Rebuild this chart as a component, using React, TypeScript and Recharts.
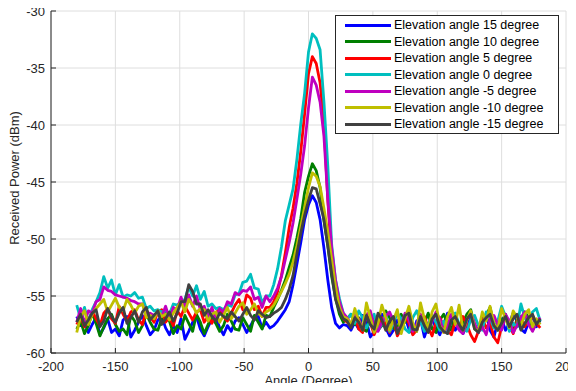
import { LineChart, Line, XAxis, YAxis, CartesianGrid } from 'recharts';

// measurement grid: -180 .. 180 deg, 3 deg apart
const angles = Array.from({ length: 121 }, (_, i) => -180 + i * 3);

const el15 = [
  -56.8, -57.6, -57.3, -58.2, -57.5, -56.9, -58.4, -57.8, -57.0, -58.2,
  -57.9, -58.5, -57.1, -56.8, -58.6, -58.0, -57.3, -56.7, -57.6, -58.4,
  -58.0, -57.1, -56.8, -57.8, -58.4, -57.6, -58.2, -57.0, -58.8, -58.1,
  -57.3, -56.8, -57.9, -58.5, -57.7, -57.0, -56.8, -57.8, -58.4, -57.6,
  -58.1, -57.2, -56.9, -57.5, -58.2, -57.6, -57.0, -56.8, -57.8, -57.3,
  -57.8, -57.6, -57.2, -56.7, -56.2, -55.5, -54.0, -52.2, -50.3, -48.3,
  -47.0, -46.2, -46.8, -48.3, -50.8, -53.6, -56.0, -57.4, -57.8, -57.5, -57.6,
  -58.0, -57.3, -57.9, -56.7, -57.2, -58.6, -58.1, -57.4, -56.6, -57.8,
  -58.5, -58.0, -57.1, -57.6, -56.8, -57.9, -58.3, -57.2, -57.0, -58.6,
  -57.6, -57.0, -57.8, -58.4, -57.5, -56.5, -57.2, -58.0, -57.4, -58.3,
  -57.5, -56.8, -57.6, -58.2, -57.0, -56.6, -58.0, -58.6, -57.3, -57.0,
  -58.0, -57.4, -56.5, -57.2, -57.9, -58.2, -57.3, -56.8, -57.7, -57.1,
];

const el10 = [
  -57.9, -57.2, -58.3, -57.6, -56.5, -57.4, -58.5, -57.7, -57.0, -56.6,
  -57.5, -58.1, -57.9, -58.4, -56.7, -57.2, -58.2, -57.6, -56.6, -57.3,
  -57.9, -58.0, -57.0, -56.5, -57.2, -58.3, -57.6, -57.9, -56.7, -57.4,
  -58.1, -56.6, -57.3, -58.3, -57.5, -56.9, -57.4, -58.1, -57.6, -56.6,
  -57.2, -57.9, -58.0, -56.9, -57.5, -58.1, -56.7, -57.3, -57.9, -56.7,
  -56.8, -56.0, -55.3, -54.5, -53.6, -52.5, -51.4, -49.9, -48.2, -45.9,
  -44.5, -43.4, -44.0, -45.5, -48.4, -50.6, -53.3, -55.2, -56.6, -57.3, -57.0,
  -56.6, -57.5, -56.9, -57.9, -58.1, -56.7, -57.2, -58.0, -57.6, -56.3,
  -56.9, -57.8, -58.0, -56.6, -57.3, -56.5, -57.7, -58.1, -56.9, -57.4,
  -56.5, -57.9, -58.2, -57.1, -56.6, -57.4, -58.0, -56.8, -57.9, -57.3,
  -56.6, -56.2, -57.6, -58.0, -57.2, -56.7, -56.0, -57.5, -58.0, -57.2,
  -56.6, -57.7, -58.1, -57.0, -57.5, -56.4, -56.9, -58.0, -57.4, -57.1,
];

const el5 = [
  -57.5, -56.8, -57.7, -57.2, -56.3, -57.0, -57.6, -56.5, -56.1, -57.0,
  -57.4, -55.9, -56.6, -57.2, -56.4, -56.2, -57.1, -57.5, -56.3, -56.8,
  -57.3, -56.4, -56.2, -57.3, -56.9, -57.6, -56.3, -56.8, -55.9, -56.5,
  -57.1, -56.4, -56.2, -57.3, -56.8, -57.4, -56.5, -56.1, -56.8, -57.2,
  -56.5, -55.8, -55.3, -56.2, -54.9, -55.2, -56.2, -55.9, -56.8, -56.0,
  -56.0, -55.5, -54.6, -53.2, -51.2, -49.0, -47.3, -45.1, -42.3, -39.0,
  -35.5, -34.0, -34.6, -36.3, -39.9, -46.6, -51.7, -54.2, -56.0, -57.0, -57.3,
  -57.6, -56.8, -57.9, -58.2, -56.6, -57.3, -58.4, -57.6, -56.9, -57.5,
  -58.2, -57.1, -58.5, -57.9, -56.7, -57.4, -58.4, -58.0, -57.0, -56.8,
  -57.8, -58.5, -57.3, -56.9, -57.6, -58.0, -58.4, -57.2, -57.9, -56.8,
  -57.5, -58.4, -59.0, -58.1, -57.0, -57.8, -57.3, -58.6, -59.1, -57.7,
  -56.9, -57.6, -58.3, -57.2, -56.8, -57.7, -57.2, -56.7, -57.4, -57.8,
];

const el0 = [
  -55.8, -57.0, -56.0, -57.3, -56.2, -55.5, -54.7, -53.3, -54.3, -53.6,
  -54.9, -54.0, -55.1, -54.9, -55.0, -54.7, -55.2, -55.1, -56.1, -55.9,
  -56.3, -56.2, -56.4, -56.3, -56.6, -55.7, -55.8, -55.5, -55.3, -54.2,
  -55.0, -54.1, -55.3, -54.6, -55.9, -55.7, -56.1, -56.0, -56.2, -55.8,
  -55.9, -54.9, -54.8, -53.8, -53.7, -53.1, -54.3, -54.4, -55.6, -55.0,
  -55.0, -54.0, -52.6, -50.7, -48.4, -47.0, -45.6, -43.0, -39.9, -37.2,
  -33.6, -32.0, -32.4, -33.4, -38.0, -43.6, -50.5, -53.6, -55.2, -56.5, -57.0,
  -56.6, -57.4, -56.3, -56.9, -57.8, -57.2, -56.6, -58.0, -57.5, -56.6,
  -58.1, -57.4, -56.5, -57.0, -57.9, -58.2, -56.9, -56.3, -57.2, -58.1,
  -57.5, -56.7, -57.3, -58.0, -57.2, -58.3, -56.9, -56.5, -57.5, -57.9,
  -58.1, -57.1, -56.7, -57.6, -58.0, -56.4, -56.9, -57.8, -57.2, -55.9,
  -56.8, -58.1, -57.4, -57.7, -55.7, -56.9, -57.5, -56.4, -56.1, -57.2,
];

const elM5 = [
  -57.3, -56.1, -57.4, -56.3, -56.5, -55.5, -55.3, -54.2, -54.5, -54.6,
  -54.9, -55.0, -55.1, -55.2, -55.4, -55.5, -55.7, -55.7, -56.6, -56.5,
  -56.7, -56.6, -56.8, -55.9, -57.0, -56.0, -56.2, -55.1, -56.0, -54.9,
  -55.9, -55.0, -56.2, -55.9, -56.9, -56.0, -57.1, -56.1, -56.4, -55.5,
  -55.7, -54.7, -54.9, -54.5, -54.6, -54.2, -55.3, -55.1, -56.0, -55.0,
  -55.5, -55.0, -54.3, -53.3, -51.8, -50.3, -48.6, -46.5, -44.3, -41.8,
  -38.5, -35.8, -36.5, -38.0, -41.0, -46.5, -50.8, -53.6, -55.5, -56.5, -56.9,
  -57.5, -56.6, -57.0, -57.9, -56.7, -56.3, -57.6, -58.1, -57.3, -56.8,
  -56.4, -57.2, -58.0, -57.6, -56.5, -57.1, -58.1, -57.5, -56.6, -57.4,
  -58.0, -57.2, -56.4, -57.0, -58.2, -57.6, -56.6, -57.3, -58.0, -58.3,
  -57.1, -56.5, -57.4, -58.2, -57.7, -58.4, -57.0, -56.7, -57.5, -58.0,
  -56.6, -57.2, -58.2, -57.6, -56.9, -56.4, -57.5, -58.1, -57.3, -56.9,
];

const elM10 = [
  -58.2, -56.8, -56.3, -57.5, -56.6, -56.1, -55.7, -55.3, -56.4, -55.8,
  -55.2, -56.0, -56.3, -55.3, -55.8, -56.5, -55.9, -55.7, -56.9, -56.7,
  -57.0, -56.3, -56.8, -56.6, -57.1, -56.5, -56.0, -55.5, -56.4, -55.3,
  -55.8, -56.5, -56.1, -56.2, -57.2, -56.6, -56.4, -57.3, -56.7, -56.0,
  -57.0, -56.5, -55.9, -55.6, -56.6, -56.2, -55.7, -56.5, -56.8, -56.4,
  -56.2, -55.8, -55.2, -54.6, -53.9, -53.1, -52.0, -50.6, -48.9, -47.2,
  -45.5, -44.2, -44.5, -45.4, -47.3, -49.4, -51.8, -54.2, -56.0, -56.8, -57.0,
  -57.5, -56.1, -57.2, -58.0, -55.6, -56.9, -58.2, -57.4, -55.8, -56.9,
  -58.0, -57.1, -56.2, -58.3, -57.0, -55.9, -57.4, -58.1, -55.6, -57.0,
  -57.9, -56.4, -55.7, -57.6, -58.2, -56.8, -56.0, -57.5, -55.8, -58.0,
  -57.1, -56.3, -57.9, -58.1, -56.4, -57.2, -55.9, -57.4, -58.0, -56.1,
  -57.0, -57.8, -56.3, -56.9, -57.6, -56.6, -56.2, -57.7, -57.0, -57.5,
];

const elM15 = [
  -57.3, -56.6, -57.6, -57.1, -56.5, -56.2, -57.7, -57.2, -56.1, -56.8,
  -57.3, -56.5, -56.0, -57.4, -56.9, -56.3, -57.3, -56.4, -56.0, -57.1,
  -56.7, -56.3, -57.5, -57.0, -56.4, -57.2, -56.5, -55.5, -55.5, -54.0,
  -54.6, -55.7, -55.7, -56.7, -56.2, -56.8, -57.2, -56.5, -56.8, -57.0,
  -56.4, -56.8, -57.2, -56.6, -56.0, -56.7, -57.1, -56.3, -56.6, -56.9,
  -56.8, -56.5, -56.3, -56.0, -55.3, -54.4, -53.2, -51.3, -49.5, -47.9,
  -46.6, -45.5, -45.6, -46.9, -48.3, -50.6, -53.0, -55.3, -56.3, -57.0, -57.2,
  -57.8, -56.9, -57.3, -58.0, -56.7, -57.5, -57.9, -56.5, -57.1, -58.0,
  -57.2, -56.8, -58.3, -57.6, -56.7, -56.5, -57.9, -58.0, -56.8, -57.6,
  -58.2, -57.0, -56.6, -57.7, -58.1, -58.3, -57.1, -56.8, -57.5, -58.0,
  -57.0, -56.6, -57.9, -58.2, -57.3, -56.9, -56.6, -57.6, -58.0, -57.4,
  -56.8, -57.7, -57.0, -56.6, -58.0, -57.4, -56.9, -56.6, -57.5, -57.0,
];

const xTicks = [-200, -150, -100, -50, 0, 50, 100, 150, 200];
const yTicks = [-60, -55, -50, -45, -40, -35, -30];

const series = [
  { key: 'el15', name: 'Elevation angle 15 degree', color: '#0000ff', values: el15 },
  { key: 'el10', name: 'Elevation angle 10 degree', color: '#007f00', values: el10 },
  { key: 'el5', name: 'Elevation angle 5 degree', color: '#ff0000', values: el5 },
  { key: 'el0', name: 'Elevation angle 0 degree', color: '#00bfbf', values: el0 },
  { key: 'elM5', name: 'Elevation angle -5 degree', color: '#bf00bf', values: elM5 },
  { key: 'elM10', name: 'Elevation angle -10 degree', color: '#bfbf00', values: elM10 },
  { key: 'elM15', name: 'Elevation angle -15 degree', color: '#404040', values: elM15 },
];

const data = angles.map((angle, i) => {
  const row: Record<string, number> = { angle };
  series.forEach((s) => {
    row[s.key] = s.values[i];
  });
  return row;
});

const FONT = '"Liberation Sans", Arial, sans-serif';
const AXIS = '#262626';
const tickStyle = { fill: AXIS, fontSize: 13, fontFamily: FONT };

const YTitle = (props: any) => {
  const vb = props.viewBox || { x: 0, y: 11, width: 51, height: 342 };
  const cx = vb.x + 14;
  const cy = vb.y + vb.height / 2 - 4;
  return (
    <text
      x={cx}
      y={cy}
      transform={`rotate(-90 ${cx} ${cy})`}
      textAnchor="middle"
      dominantBaseline="central"
      fill={AXIS}
      fontSize={13}
      fontFamily={FONT}
    >
      Received Power (dBm)
    </text>
  );
};

const LegendBox = () => (
  <div
    style={{
      position: 'absolute',
      left: 335,
      top: 15,
      width: 224,
      height: 119,
      boxSizing: 'border-box',
      border: `1px solid ${AXIS}`,
      background: '#fff',
      fontFamily: FONT,
      fontSize: 12.5,
      color: '#000',
    }}
  >
    {series.map((s, i) => {
      const cy = 9 + i * 16.55;
      return (
        <div key={s.key}>
          <div
            style={{
              position: 'absolute',
              left: 9,
              top: cy - 1.5,
              width: 46,
              height: 3,
              background: s.color,
            }}
          />
          <div
            style={{
              position: 'absolute',
              left: 58,
              top: cy - 7,
              lineHeight: '14px',
              whiteSpace: 'nowrap',
            }}
          >
            {s.name}
          </div>
        </div>
      );
    })}
  </div>
);

export default function App() {
  return (
    <div style={{ position: 'relative', width: 576, height: 391, margin: -8, background: '#fff' }}>
      <LineChart
        width={576}
        height={391}
        data={data}
        margin={{ top: 11, right: 10, bottom: 0, left: 0 }}
        style={{ fontFamily: FONT }}
      >
        <CartesianGrid stroke="#dedede" strokeWidth={1} />
        <XAxis
          dataKey="angle"
          type="number"
          domain={[-200, 200]}
          ticks={xTicks}
          height={38}
          stroke={AXIS}
          tick={tickStyle}
          tickSize={-5}
          tickMargin={14}
          label={{ value: 'Angle (Degree)', position: 'insideBottom', offset: 6, fill: AXIS, fontSize: 13, fontFamily: FONT }}
        />
        <XAxis
          xAxisId="top"
          orientation="top"
          type="number"
          domain={[-200, 200]}
          ticks={xTicks}
          height={0}
          stroke={AXIS}
          tick={false}
          tickSize={-5}
        />
        <YAxis
          type="number"
          domain={[-60, -30]}
          ticks={yTicks}
          width={51}
          stroke={AXIS}
          tick={tickStyle}
          tickSize={-5}
          tickMargin={11}
          label={{ content: YTitle }}
        />
        <YAxis
          yAxisId="right"
          orientation="right"
          type="number"
          domain={[-60, -30]}
          ticks={yTicks}
          width={0}
          stroke={AXIS}
          tick={false}
          tickSize={-5}
        />
        {series.map((s) => (
          <Line
            key={s.key}
            type="linear"
            dataKey={s.key}
            name={s.name}
            stroke={s.color}
            strokeWidth={2.8}
            strokeLinejoin="round"
            dot={false}
            isAnimationActive={false}
          />
        ))}
      </LineChart>
      <LegendBox />
    </div>
  );
}
